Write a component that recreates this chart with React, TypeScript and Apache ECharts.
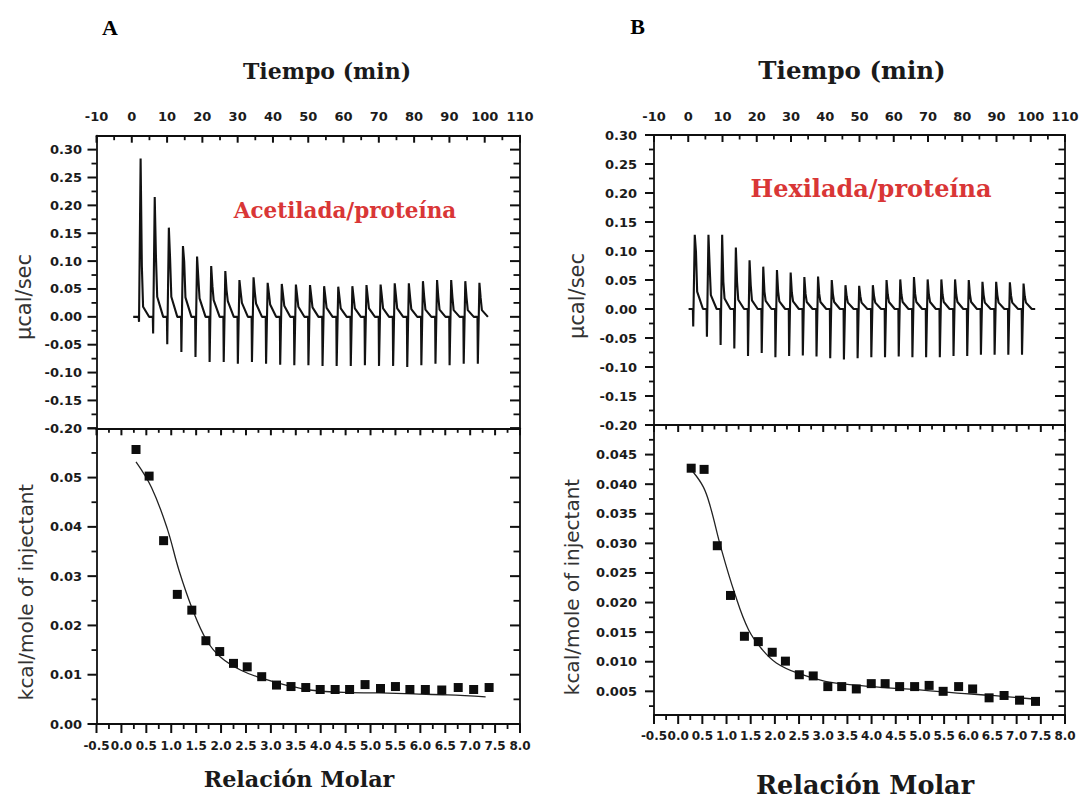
import React, { useEffect, useRef } from 'react';
import * as echarts from 'echarts';

// ---------- Tick values / labels ----------
const timeLabels = [-10, 0, 10, 20, 30, 40, 50, 60, 70, 80, 90, 100, 110];
const timeMinor = [-5, 5, 15, 25, 35, 45, 55, 65, 75, 85, 95, 105];
const rawLabels = [-0.2, -0.15, -0.1, -0.05, 0, 0.05, 0.1, 0.15, 0.2, 0.25, 0.3];
const rawMinor = [-0.175, -0.125, -0.075, -0.025, 0.025, 0.075, 0.125, 0.175, 0.225, 0.275];
const heatTicksA = [0, 0.01, 0.02, 0.03, 0.04, 0.05, 0.06];
const heatLabelsA = [0, 0.01, 0.02, 0.03, 0.04, 0.05];
const heatMinorA = [0.005, 0.015, 0.025, 0.035, 0.045, 0.055];
const heatTicksB = [0.005, 0.01, 0.015, 0.02, 0.025, 0.03, 0.035, 0.04, 0.045, 0.05];
const heatLabelsB = [0.005, 0.01, 0.015, 0.02, 0.025, 0.03, 0.035, 0.04, 0.045];
const heatMinorB = [0.0025, 0.0075, 0.0125, 0.0175, 0.0225, 0.0275, 0.0325, 0.0375, 0.0425, 0.0475];
const molarLabels = [-0.5, 0, 0.5, 1, 1.5, 2, 2.5, 3, 3.5, 4, 4.5, 5, 5.5, 6, 6.5, 7, 7.5, 8];
const molarMinor = [-0.25, 0.25, 0.75, 1.25, 1.75, 2.25, 2.75, 3.25, 3.75, 4.25, 4.75, 5.25, 5.75, 6.25, 6.75, 7.25, 7.75];

// ---------- Panel A: raw thermogram (µcal/sec vs min) ----------
const baselineA = [0.4, 101.0];
const injTimesA = [2.5, 6.5, 10.5, 14.5, 18.5, 22.5, 26.5, 30.5, 34.5, 38.5, 42.5, 46.5, 50.5, 54.5, 58.5, 62.5, 66.5, 70.5, 74.5, 78.5, 82.5, 86.5, 90.5, 94.5, 98.5];
const peaksA = [0.284, 0.215, 0.16, 0.127, 0.108, 0.091, 0.082, 0.066, 0.071, 0.061, 0.059, 0.058, 0.057, 0.055, 0.054, 0.055, 0.057, 0.058, 0.06, 0.06, 0.064, 0.066, 0.066, 0.064, 0.061];
const shouldersA = [0.091, 0.107, 0.105, 0.099, 0.07, 0.055, 0.048, 0.045, 0.045, 0.042, 0.04, 0.038, 0.037, 0.036, 0.035, 0.035, 0.036, 0.037, 0.038, 0.036, 0.036, 0.036, 0.035, 0.035, 0.034];
const tailsA = [0.018, 0.036, 0.036, 0.035, 0.033, 0.03, 0.028, 0.025, 0.024, 0.022, 0.02, 0.018, 0.017, 0.016, 0.015, 0.015, 0.015, 0.015, 0.015, 0.014, 0.013, 0.013, 0.012, 0.012, 0.012];
const dipsA = [-0.009, -0.03, -0.049, -0.063, -0.072, -0.081, -0.081, -0.084, -0.081, -0.084, -0.086, -0.087, -0.087, -0.088, -0.088, -0.088, -0.087, -0.088, -0.088, -0.09, -0.087, -0.084, -0.087, -0.084, -0.084];

// ---------- Panel A: integrated heats ----------
const molarA = [0.293, 0.556, 0.847, 1.122, 1.413, 1.696, 1.973, 2.25, 2.525, 2.816, 3.113, 3.404, 3.7, 3.99, 4.29, 4.58, 4.89, 5.2, 5.5, 5.79, 6.1, 6.43, 6.76, 7.07, 7.38];
const heatA = [0.0557, 0.0503, 0.0372, 0.0263, 0.0231, 0.0169, 0.0147, 0.0123, 0.0116, 0.0096, 0.0079, 0.0076, 0.0074, 0.007, 0.007, 0.007, 0.008, 0.0072, 0.0076, 0.007, 0.007, 0.0069, 0.0074, 0.007, 0.0074];
const fitXA = [0.293, 0.604, 0.915, 1.158, 1.433, 1.71, 1.987, 2.4, 2.816, 3.3, 3.78, 4.475, 5.17, 5.86, 6.55, 7.31];
const fitYA = [0.0532, 0.048, 0.0398, 0.0311, 0.0231, 0.017, 0.0136, 0.0109, 0.0093, 0.0079, 0.0069, 0.0064, 0.0063, 0.0061, 0.0059, 0.0055];

// ---------- Panel B: raw thermogram ----------
const baselineB = [0.1, 101.3];
const injTimesB = [1.9, 5.9, 9.9, 13.9, 17.9, 21.9, 25.9, 29.9, 33.9, 37.9, 41.9, 45.9, 49.9, 53.9, 57.9, 61.9, 65.9, 69.9, 73.9, 77.9, 81.9, 85.9, 89.9, 93.9, 97.9];
const peaksB = [0.128, 0.128, 0.128, 0.106, 0.084, 0.073, 0.067, 0.063, 0.055, 0.056, 0.05, 0.041, 0.04, 0.041, 0.05, 0.051, 0.055, 0.051, 0.051, 0.051, 0.05, 0.047, 0.047, 0.046, 0.044];
const shouldersB = [0.099, 0.073, 0.047, 0.047, 0.041, 0.03, 0.03, 0.028, 0.026, 0.026, 0.025, 0.022, 0.022, 0.022, 0.025, 0.025, 0.026, 0.025, 0.025, 0.025, 0.025, 0.024, 0.024, 0.023, 0.022];
const tailsB = [0.03, 0.024, 0.018, 0.016, 0.015, 0.014, 0.013, 0.013, 0.012, 0.012, 0.012, 0.011, 0.011, 0.011, 0.012, 0.012, 0.012, 0.012, 0.012, 0.012, 0.012, 0.011, 0.011, 0.011, 0.011];
const dipsB = [-0.03, -0.048, -0.062, -0.068, -0.081, -0.076, -0.083, -0.081, -0.08, -0.082, -0.085, -0.087, -0.085, -0.083, -0.083, -0.082, -0.083, -0.083, -0.083, -0.081, -0.081, -0.079, -0.079, -0.079, -0.079];

// ---------- Panel B: integrated heats ----------
const molarB = [0.269, 0.536, 0.809, 1.082, 1.37, 1.657, 1.945, 2.218, 2.505, 2.793, 3.095, 3.382, 3.684, 3.993, 4.28, 4.58, 4.89, 5.19, 5.48, 5.8, 6.09, 6.43, 6.74, 7.06, 7.39];
const heatB = [0.0427, 0.0425, 0.0296, 0.0212, 0.0143, 0.0134, 0.0116, 0.0101, 0.0078, 0.0076, 0.0058, 0.0058, 0.0054, 0.0063, 0.0063, 0.0058, 0.0058, 0.006, 0.005, 0.0058, 0.0054, 0.0039, 0.0043, 0.0035, 0.0033];
const fitXB = [0.305, 0.522, 0.665, 0.88, 1.167, 1.455, 1.744, 2.03, 2.46, 3.04, 3.61, 4.33, 5.05, 5.77, 6.49, 7.35];
const fitYB = [0.0421, 0.0395, 0.0362, 0.0294, 0.0216, 0.0154, 0.012, 0.0098, 0.0081, 0.0067, 0.0061, 0.0056, 0.0052, 0.0047, 0.0043, 0.0037];

// ---------- layout ----------
const GRIDS = [
  { left: 96.5, top: 135.7, width: 423.5, height: 292.6 },
  { left: 96.5, top: 428.3, width: 423.5, height: 295.7 },
  { left: 654, top: 135, width: 411, height: 290 },
  { left: 654, top: 425, width: 411, height: 290 },
];

function buildTrace(times: number[], dips: number[], peaks: number[], shoulders: number[], tails: number[], base: number[]) {
  const pts: number[][] = [[base[0], 0]];
  times.forEach((t, i) => {
    pts.push([t - 0.55, 0], [t - 0.45, dips[i]], [t, peaks[i]], [t + 0.35, shoulders[i]], [t + 0.7, tails[i]], [t + 2.4, 0]);
  });
  pts.push([base[1], 0]);
  return pts;
}
const zip = (xs: number[], ys: number[]) => xs.map((x, i) => [x, ys[i]]);

const INK = '#0f0f0f';

function makeAxis(o: any) {
  return {
    type: 'value', gridIndex: o.gridIndex, position: o.position, min: o.min, max: o.max,
    axisLine: { show: true, onZero: false, lineStyle: { color: INK, width: 1.8 } },
    axisTick: { show: false },
    minorTick: { show: false },
    splitLine: { show: false },
    axisLabel: o.labels
      ? {
          show: true, customValues: o.labels, margin: o.margin,
          formatter: (v: any) => Number(v).toFixed(o.digits),
          fontFamily: 'DejaVu Sans', fontWeight: 'bold', fontSize: o.fontSize || 13, color: '#1b1b1b',
        }
      : { show: false },
  };
}

const txt = (text: string, x: number, y: number, size: number, family: string, weight: string, fill: string, rotation = 0) => ({
  type: 'text', x, y, rotation, silent: true, z: 20,
  style: { text, fontSize: size, fontFamily: family, fontWeight: weight, fill, align: 'center', verticalAlign: 'middle', textAlign: 'center', textVerticalAlign: 'middle' },
});

function buildTexts() {
  const serif = 'DejaVu Serif';
  const sans = 'DejaVu Sans';
  return [
    txt('A', 110, 27, 22, 'Liberation Serif', 'bold', '#000'),
    txt('B', 637.5, 26, 22, 'Liberation Serif', 'bold', '#000'),
    txt('Tiempo (min)', 327, 71, 22, serif, 'bold', '#1a1a1a'),
    txt('Tiempo (min)', 852, 70, 24.5, serif, 'bold', '#1a1a1a'),
    txt('Acetilada/proteína', 345, 210, 21.5, serif, 'bold', '#d93636'),
    txt('Hexilada/proteína', 871, 188, 24, serif, 'bold', '#d93636'),
    txt('Relación Molar', 299, 779, 22.3, serif, 'bold', '#1a1a1a'),
    txt('Relación Molar', 865, 785, 25.5, serif, 'bold', '#1a1a1a'),
    txt('µcal/sec', 24, 297, 21, sans, 'normal', '#333', Math.PI / 2),
    txt('kcal/mole of injectant', 26, 592, 20, sans, 'normal', '#333', Math.PI / 2),
    txt('µcal/sec', 577, 296, 21, sans, 'normal', '#333', Math.PI / 2),
    txt('kcal/mole of injectant', 572, 587, 20, sans, 'normal', '#333', Math.PI / 2),
  ];
}

function buildOption() {
  const xAxis: any[] = [];
  const yAxis: any[] = [];
  const xi = (a: any) => { xAxis.push(a); return xAxis.length - 1; };
  const yi = (a: any) => { yAxis.push(a); return yAxis.length - 1; };
  const ix: any = {};
  ix.xTimeA = xi(makeAxis({ gridIndex: 0, position: 'top', min: -10, max: 110, labels: timeLabels, digits: 0, margin: 13 }));
  xi(makeAxis({ gridIndex: 0, position: 'bottom', min: -10, max: 110 }));
  ix.xMolA = xi(makeAxis({ gridIndex: 1, position: 'bottom', min: -0.5, max: 8, labels: molarLabels, digits: 1, margin: 16, fontSize: 12 }));
  xi(makeAxis({ gridIndex: 1, position: 'top', min: -0.5, max: 8 }));
  ix.yRawA = yi(makeAxis({ gridIndex: 0, position: 'left', min: -0.2, max: 0.325, labels: rawLabels, digits: 2, margin: 14.5 }));
  yi(makeAxis({ gridIndex: 0, position: 'right', min: -0.2, max: 0.325 }));
  ix.yHeatA = yi(makeAxis({ gridIndex: 1, position: 'left', min: 0, max: 0.06, labels: heatLabelsA, digits: 2, margin: 14.5 }));
  yi(makeAxis({ gridIndex: 1, position: 'right', min: 0, max: 0.06 }));
  ix.xTimeB = xi(makeAxis({ gridIndex: 2, position: 'top', min: -10, max: 110, labels: timeLabels, digits: 0, margin: 12 }));
  xi(makeAxis({ gridIndex: 2, position: 'bottom', min: -10, max: 110 }));
  ix.xMolB = xi(makeAxis({ gridIndex: 3, position: 'bottom', min: -0.5, max: 8, labels: molarLabels, digits: 1, margin: 15, fontSize: 12 }));
  xi(makeAxis({ gridIndex: 3, position: 'top', min: -0.5, max: 8 }));
  ix.yRawB = yi(makeAxis({ gridIndex: 2, position: 'left', min: -0.2, max: 0.3, labels: rawLabels, digits: 2, margin: 17 }));
  yi(makeAxis({ gridIndex: 2, position: 'right', min: -0.2, max: 0.3 }));
  ix.yHeatB = yi(makeAxis({ gridIndex: 3, position: 'left', min: 0.001, max: 0.05, labels: heatLabelsB, digits: 3, margin: 17 }));
  yi(makeAxis({ gridIndex: 3, position: 'right', min: 0.001, max: 0.05 }));

  const traceStyle = { color: '#121212', width: 2.1 };
  const fitStyle = { color: '#222', width: 1.3 };
  const sq = { color: '#0d0d0d', opacity: 1 };

  const series: any[] = [
    { type: 'line', xAxisIndex: ix.xTimeA, yAxisIndex: ix.yRawA, data: buildTrace(injTimesA, dipsA, peaksA, shouldersA, tailsA, baselineA), showSymbol: false, symbol: 'none', lineStyle: traceStyle },
    { type: 'line', xAxisIndex: ix.xMolA, yAxisIndex: ix.yHeatA, data: zip(fitXA, fitYA), smooth: 0.4, symbol: 'none', lineStyle: fitStyle, z: 2 },
    { type: 'scatter', xAxisIndex: ix.xMolA, yAxisIndex: ix.yHeatA, data: zip(molarA, heatA), symbol: 'rect', symbolSize: 9, itemStyle: sq, z: 3 },
    { type: 'line', xAxisIndex: ix.xTimeB, yAxisIndex: ix.yRawB, data: buildTrace(injTimesB, dipsB, peaksB, shouldersB, tailsB, baselineB), showSymbol: false, symbol: 'none', lineStyle: traceStyle },
    { type: 'line', xAxisIndex: ix.xMolB, yAxisIndex: ix.yHeatB, data: zip(fitXB, fitYB), smooth: 0.4, symbol: 'none', lineStyle: fitStyle, z: 2 },
    { type: 'scatter', xAxisIndex: ix.xMolB, yAxisIndex: ix.yHeatB, data: zip(molarB, heatB), symbol: 'rect', symbolSize: 9, itemStyle: sq, z: 3 },
  ];

  return { option: { animation: false, backgroundColor: '#ffffff', grid: GRIDS, xAxis, yAxis, series }, ix };
}

// tick marks as filled rects; positions come from the chart's own axis scales
function buildTicks(chart: any, ix: any) {
  const out: any[] = [];
  const rectV = (x: number, y1: number, y2: number, w: number) =>
    out.push({ type: 'rect', silent: true, z: 15, shape: { x: x - w / 2, y: Math.min(y1, y2), width: w, height: Math.abs(y2 - y1) }, style: { fill: INK } });
  const rectH = (y: number, x1: number, x2: number, w: number) =>
    out.push({ type: 'rect', silent: true, z: 15, shape: { x: Math.min(x1, x2), y: y - w / 2, width: Math.abs(x2 - x1), height: w }, style: { fill: INK } });
  const panel = (g: any, xIdx: number, yIdx: number, xMaj: number[], xMin: number[], yMaj: number[], yMin: number[], isTop: boolean) => {
    const L = g.left, R = g.left + g.width, T = g.top, B = g.top + g.height;
    const xs = (v: number) => { const r = chart.convertToPixel({ xAxisIndex: xIdx }, v); return Array.isArray(r) ? r[0] : Number(r); };
    const ys = (v: number) => { const r = chart.convertToPixel({ yAxisIndex: yIdx }, v); return Array.isArray(r) ? r[1] : Number(r); };
    const doX = (vals: number[], major: boolean) => vals.forEach((v) => {
      const px = xs(v);
      const inLen = major ? 7 : 4.5;
      const outLen = major ? 9 : 5;
      const w = major ? 2 : 1.8;
      if (isTop) rectV(px, T, T + inLen, w);
      else { rectV(px, B, B + outLen, w); rectV(px, T, T + inLen, w); }
    });
    const doY = (vals: number[], major: boolean) => vals.forEach((v) => {
      const py = ys(v);
      const outLen = major ? 9 : 5;
      const inLen = major ? 10 : 6.5;
      const w = major ? 2 : 1.8;
      rectH(py, L - outLen, L, w);
      rectH(py, R - inLen, R, w);
    });
    doX(xMaj, true); doX(xMin, false); doY(yMaj, true); doY(yMin, false);
  };
  panel(GRIDS[0], ix.xTimeA, ix.yRawA, timeLabels, timeMinor, rawLabels, rawMinor, true);
  panel(GRIDS[1], ix.xMolA, ix.yHeatA, molarLabels, molarMinor, heatTicksA, heatMinorA, false);
  panel(GRIDS[2], ix.xTimeB, ix.yRawB, timeLabels, timeMinor, rawLabels, rawMinor, true);
  panel(GRIDS[3], ix.xMolB, ix.yHeatB, molarLabels, molarMinor, heatTicksB, heatMinorB, false);
  return out.filter((e) => [e.shape.x, e.shape.y, e.shape.width, e.shape.height].every((n: any) => Number.isFinite(n)));
}

export default function App() {
  const ref = useRef<HTMLDivElement>(null);
  useEffect(() => {
    if (!ref.current) return;
    const chart = echarts.init(ref.current, null, { renderer: 'svg' });
    const { option, ix } = buildOption();
    chart.setOption(option as any);
    let ticks: any[] = [];
    try {
      ticks = buildTicks(chart, ix);
    } catch (e) {
      ticks = [];
    }
    chart.setOption({ graphic: { elements: [...buildTexts(), ...ticks] } } as any);
    return () => chart.dispose();
  }, []);
  return <div ref={ref} style={{ position: 'fixed', left: 0, top: 0, width: 1085, height: 801, background: '#fff' }} />;
}
